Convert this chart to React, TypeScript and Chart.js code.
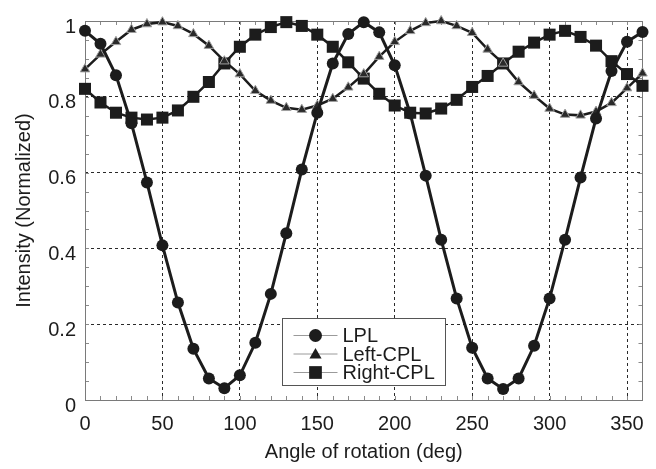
import React, { useEffect, useRef } from "react";
import { Chart, registerables } from "chart.js";

Chart.register(...registerables);

const angles = [0, 10, 20, 30, 40, 50, 60, 70, 80, 90, 100, 110, 120, 130, 140, 150, 160, 170, 180, 190, 200, 210, 220, 230, 240, 250, 260, 270, 280, 290, 300, 310, 320, 330, 340, 350, 360];

const lpl = [0.974, 0.94, 0.857, 0.73, 0.574, 0.408, 0.257, 0.135, 0.057, 0.031, 0.065, 0.151, 0.28, 0.44, 0.608, 0.758, 0.888, 0.966, 0.997, 0.97, 0.883, 0.756, 0.592, 0.423, 0.268, 0.138, 0.057, 0.029, 0.057, 0.143, 0.268, 0.423, 0.587, 0.743, 0.868, 0.945, 0.971];

const leftCpl = [0.873, 0.912, 0.945, 0.977, 0.992, 0.997, 0.987, 0.966, 0.935, 0.894, 0.86, 0.816, 0.79, 0.771, 0.766, 0.777, 0.795, 0.825, 0.86, 0.906, 0.945, 0.974, 0.995, 1.0, 0.987, 0.969, 0.925, 0.888, 0.839, 0.803, 0.769, 0.753, 0.751, 0.761, 0.784, 0.823, 0.862];

const rightCpl = [0.821, 0.785, 0.758, 0.745, 0.74, 0.745, 0.764, 0.8, 0.839, 0.888, 0.932, 0.964, 0.984, 0.997, 0.987, 0.964, 0.932, 0.891, 0.848, 0.808, 0.777, 0.758, 0.756, 0.769, 0.792, 0.826, 0.855, 0.888, 0.919, 0.943, 0.964, 0.974, 0.958, 0.935, 0.894, 0.86, 0.829];

const seriesNames = ["LPL", "Left-CPL", "Right-CPL"];
const xTicks = [0, 50, 100, 150, 200, 250, 300, 350];
const yTicks = [0, 0.2, 0.4, 0.6, 0.8, 1];
const xMinorStep = 10;
const yMinorStep = 0.05;

const FONT = "'Liberation Sans', Arial, Helvetica, sans-serif";
const INK = "#1c1c1c";

function drawMarker(ctx: CanvasRenderingContext2D, style: string, x: number, y: number, r: number) {
  ctx.beginPath();
  if (style === "circle") {
    ctx.arc(x, y, r, 0, Math.PI * 2);
  } else if (style === "triangle") {
    for (let i = 0; i < 3; i++) {
      const a = (i * 2 * Math.PI) / 3;
      const px = x + Math.sin(a) * r;
      const py = y - Math.cos(a) * r;
      if (i === 0) ctx.moveTo(px, py);
      else ctx.lineTo(px, py);
    }
    ctx.closePath();
  } else {
    const s = Math.SQRT1_2 * r;
    ctx.rect(x - s, y - s, 2 * s, 2 * s);
  }
  ctx.fill();
}

const frameAndTicks = {
  id: "frameAndTicks",
  beforeDatasetsDraw(chart: any) {
    const { ctx, chartArea } = chart;
    const xs = chart.scales.x;
    const ys = chart.scales.y;
    const { left, right, top, bottom } = chartArea;
    ctx.save();
    ctx.strokeStyle = "#8a8a8a";
    ctx.lineWidth = 1;
    const len = 4;
    ctx.beginPath();
    for (let v = xs.min; v <= xs.max + 1e-9; v += xMinorStep) {
      const px = Math.round(xs.getPixelForValue(v)) + 0.5;
      ctx.moveTo(px, bottom);
      ctx.lineTo(px, bottom - len);
      ctx.moveTo(px, top);
      ctx.lineTo(px, top + len);
    }
    for (let v = ys.min; v <= ys.max + 1e-9; v += yMinorStep) {
      const py = Math.round(ys.getPixelForValue(v)) + 0.5;
      ctx.moveTo(left, py);
      ctx.lineTo(left + len, py);
      ctx.moveTo(right, py);
      ctx.lineTo(right - len, py);
    }
    ctx.stroke();
    ctx.strokeStyle = "#7a7a7a";
    ctx.strokeRect(Math.round(left) + 0.5, Math.round(top) + 0.5, Math.round(right - left), Math.round(bottom - top));
    ctx.restore();
  },
};

const boxLegend = {
  id: "boxLegend",
  afterDatasetsDraw(chart: any) {
    const { ctx, chartArea } = chart;
    const bx = Math.round(chartArea.left + 197) + 0.5;
    const by = Math.round(chartArea.top + 297) + 0.5;
    const bw = 163;
    const bh = 67;
    ctx.save();
    ctx.fillStyle = "#ffffff";
    ctx.fillRect(bx, by, bw, bh);
    ctx.strokeStyle = "#555555";
    ctx.lineWidth = 1;
    ctx.strokeRect(bx, by, bw, bh);
    const styles = ["circle", "triangle", "rect"];
    const radii = [6.5, 7, 9];
    ctx.font = `20px ${FONT}`;
    ctx.textBaseline = "middle";
    ctx.textAlign = "left";
    seriesNames.forEach((name, i) => {
      const cy = by + 17 + i * 18.5;
      ctx.strokeStyle = "#9a9a9a";
      ctx.lineWidth = 1;
      ctx.beginPath();
      ctx.moveTo(bx + 11, cy);
      ctx.lineTo(bx + 55, cy);
      ctx.stroke();
      ctx.fillStyle = INK;
      drawMarker(ctx, styles[i], bx + 33, cy + (i === 1 ? 1 : 0), radii[i]);
      ctx.fillStyle = INK;
      ctx.fillText(name, bx + 60, cy + 1);
    });
    ctx.restore();
  },
};

export default function App() {
  const canvasRef = useRef<HTMLCanvasElement | null>(null);

  useEffect(() => {
    document.body.style.margin = "0";
    const canvas = canvasRef.current;
    if (!canvas) return;
    const toPts = (arr: number[]) => angles.map((a, i) => ({ x: a, y: arr[i] }));
    const chart = new Chart(canvas, {
      type: "line",
      data: {
        datasets: [
          {
            label: seriesNames[0],
            data: toPts(lpl),
            borderColor: INK,
            borderWidth: 3,
            pointStyle: "circle",
            pointRadius: 6,
            pointBackgroundColor: INK,
            pointBorderWidth: 0,
            tension: 0,
            clip: false,
          },
          {
            label: seriesNames[1],
            data: toPts(leftCpl),
            borderColor: INK,
            borderWidth: 2.5,
            pointStyle: "triangle",
            pointRadius: 5.5,
            pointBackgroundColor: "#2a2a2a",
            pointBorderColor: "#a0a0a0",
            pointBorderWidth: 1,
            tension: 0,
            clip: false,
          },
          {
            label: seriesNames[2],
            data: toPts(rightCpl),
            borderColor: INK,
            borderWidth: 2.5,
            pointStyle: "rect",
            pointRadius: 8.5,
            pointBackgroundColor: INK,
            pointBorderWidth: 0,
            tension: 0,
            clip: false,
          },
        ],
      },
      options: {
        animation: false,
        responsive: true,
        maintainAspectRatio: false,
        layout: { padding: { top: 15, right: 11, left: 0, bottom: 0 } },
        plugins: {
          legend: { display: false },
          tooltip: { enabled: false },
        },
        scales: {
          x: {
            type: "linear",
            min: 0,
            max: 360,
            afterBuildTicks: (axis: any) => {
              axis.ticks = xTicks.map((v) => ({ value: v }));
            },
            afterFit: (axis: any) => {
              axis.height = 69;
            },
            grid: {
              color: (c: any) => (c.tick && c.tick.value === 0 ? "rgba(0,0,0,0)" : "#2a2a2a"),
              lineWidth: 1,
              drawTicks: false,
            },
            border: { display: false, dash: [3, 3] },
            ticks: {
              padding: 12,
              color: INK,
              font: { family: FONT, size: 20 },
              maxRotation: 0,
              autoSkip: false,
            },
            title: {
              display: true,
              text: "Angle of rotation (deg)",
              color: INK,
              font: { family: FONT, size: 20 },
              padding: { top: 0, bottom: 5 },
            },
          },
          y: {
            type: "linear",
            min: 0,
            max: 1,
            afterBuildTicks: (axis: any) => {
              axis.ticks = yTicks.map((v) => ({ value: v }));
            },
            afterFit: (axis: any) => {
              axis.width = 85;
            },
            grid: {
              color: (c: any) =>
                c.tick && (c.tick.value === 0 || c.tick.value === 1) ? "rgba(0,0,0,0)" : "#2a2a2a",
              lineWidth: 1,
              drawTicks: false,
            },
            border: { display: false, dash: [3, 3] },
            ticks: {
              padding: 9,
              labelOffset: 6,
              color: INK,
              font: { family: FONT, size: 20 },
              callback: (v: any) => String(+Number(v).toFixed(2)),
            },
            title: {
              display: true,
              text: "Intensity (Normalized)",
              color: INK,
              font: { family: FONT, size: 20 },
              padding: { top: 12, bottom: 0 },
            },
          },
        },
      },
      plugins: [frameAndTicks, boxLegend],
    } as any);
    return () => chart.destroy();
  }, []);

  return (
    <div style={{ width: 656, height: 469, position: "relative" }}>
      <canvas ref={canvasRef} />
    </div>
  );
}
